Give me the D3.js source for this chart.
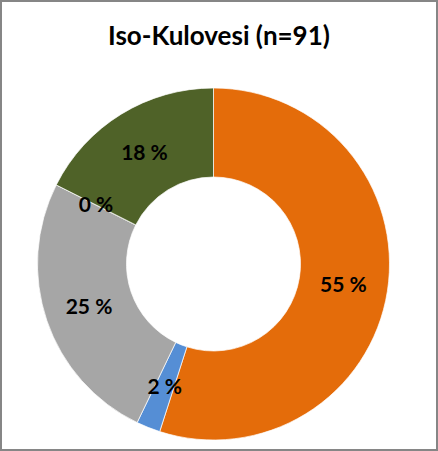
<!DOCTYPE html>
<html>
<head>
<meta charset="utf-8">
<script src="https://cdn.jsdelivr.net/npm/d3@7"></script>
<style>
  body { margin: 0; background: #fff; }
  svg { display: block; }
</style>
</head>
<body>
<div id="chart"></div>
<script>
// Data (n = 91)
const categories = ["A", "B", "C", "D", "E"];
const counts = [50, 2, 23, 0, 16];
const labels = ["55 %", "2 %", "25 %", "0 %", "18 %"];
const colors = ["#E46C0A", "#558ED5", "#A6A6A6", "#FFC000", "#4F6228"];

const W = 438, H = 451;
const svg = d3.select("#chart").append("svg")
  .attr("width", W)
  .attr("height", H);

svg.append("rect")
  .attr("x", 1).attr("y", 1)
  .attr("width", W - 2).attr("height", H - 2)
  .attr("fill", "#fff")
  .attr("stroke", "#868686")
  .attr("stroke-width", 2);

svg.append("text")
  .attr("x", 219)
  .attr("y", 45)
  .attr("text-anchor", "middle")
  .attr("font-family", "Lato, sans-serif")
  .attr("font-weight", "bold")
  .attr("font-size", 26)
  .attr("fill", "#000")
  .text("Iso-Kulovesi (n=91)");

const cx = 213.5, cy = 264;
const rOuter = 176, rInner = 87;

const pie = d3.pie().sort(null).value(d => d.v);
const arcs = pie(categories.map((c, i) => ({ c, v: counts[i], label: labels[i], color: colors[i] })));

const arc = d3.arc().innerRadius(rInner).outerRadius(rOuter);
const labelArc = d3.arc().innerRadius((rInner + rOuter) / 2).outerRadius((rInner + rOuter) / 2);

const g = svg.append("g").attr("transform", `translate(${cx},${cy})`);

g.selectAll("path")
  .data(arcs)
  .enter().append("path")
  .attr("d", arc)
  .attr("fill", d => d.data.color)
  .attr("stroke", "#fff")
  .attr("stroke-width", 0.7);

g.selectAll("text")
  .data(arcs)
  .enter().append("text")
  .attr("transform", d => `translate(${labelArc.centroid(d)})`)
  .attr("text-anchor", "middle")
  .attr("dy", "0.36em")
  .attr("font-family", "Lato, sans-serif")
  .attr("font-weight", "bold")
  .attr("font-size", 21)
  .attr("fill", "#000")
  .text(d => d.data.label);
</script>
</body>
</html>
